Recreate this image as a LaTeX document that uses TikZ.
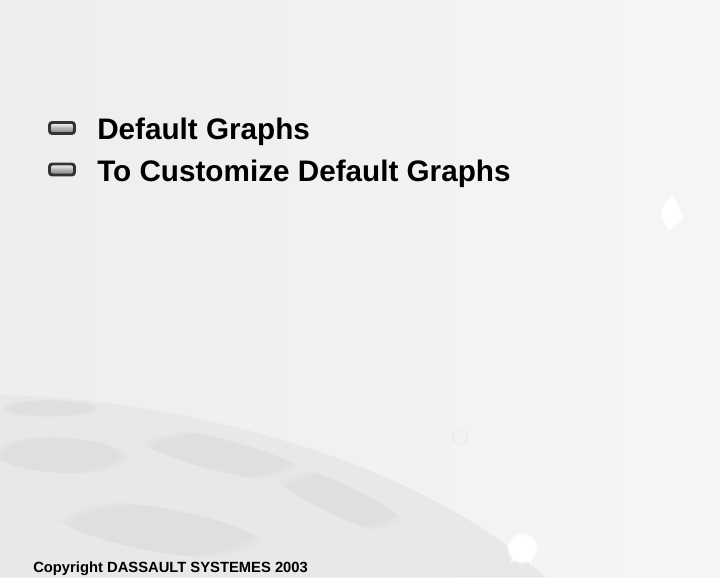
\documentclass[tikz,border=0pt]{standalone}
\usepackage{fontspec}
\setmainfont{Liberation Sans}
\usetikzlibrary{fadings}

% backdrop: darker rim on the left, lighter towards the right
\pgfdeclarehorizontalshading{backdrop}{100bp}{color(0bp)=(black!16); color(2.5bp)=(black!8);
  color(40bp)=(black!6); color(100bp)=(black!2)}

\tikzset{
  bulletbox/.style={draw=black!80, line width=2.1pt, rounded corners=2pt,
    minimum width=0.625cm, minimum height=0.275cm, inner sep=0pt,
    top color=white, bottom color=black!50, middle color=black!30},
  itemtext/.style={anchor=base west, inner sep=0pt, font=\fontsize{21.1}{25}\selectfont\bfseries},
  smalltext/.style={anchor=base west, inner sep=0pt, font=\fontsize{10.5}{12}\selectfont\bfseries},
  patch/.style={black!22, opacity=0.25, path fading=circle with fuzzy edge 20 percent}
}

\begin{document}
\begin{tikzpicture}[x=0.025cm, y=-0.025cm]
    \useasboundingbox (0,0) rectangle (720,577);
    \shade[shading=backdrop] (0,0) rectangle (720,577);
    % earth (y runs downwards, so the tilts are negative)
    \fill[black!9] (0,395) .. controls (180,398) and (420,460) .. (545,577) -- (0,577) -- cycle;
    \fill[patch, rotate around={-4:(60,455)}] (60,455) ellipse (70 and 18);
    \fill[patch, rotate around={-14:(220,455)}] (220,455) ellipse (90 and 16);
    \fill[patch] (50,408) ellipse (50 and 9);
    \fill[patch, rotate around={-25:(340,500)}] (340,500) ellipse (80 and 16);
    \fill[patch, rotate around={-10:(160,530)}] (160,530) ellipse (110 and 22);
    % flare, glints and rings
    \fill[white, path fading=circle with fuzzy edge 20 percent] (522,548) circle (16);
    \fill[white] (522,548) -- (527,536) -- (526,548) -- (540,545) -- (527,552) -- (533,566) -- (522,555) -- (510,563) -- (517,550) -- (505,543) -- cycle;
    \fill[white, path fading=circle with fuzzy edge 20 percent] (672,193) -- (684,218) -- (668,232) -- (660,212) -- cycle;
    \draw[black!7, line width=1.5pt] (460,437) circle (7);
    \draw[black!5, line width=1.5pt] (447,143) circle (6);
    % items
    \node[bulletbox] (bulletA) at (62,128) {};
    \node[itemtext] (itemA) at (97,139) {Default Graphs};
    \node[bulletbox] (bulletB) at (62,169.5) {};
    \node[itemtext] (itemB) at (97,181) {To Customize Default Graphs};
    \node[smalltext] (copyright) at (33,572) {Copyright DASSAULT SYSTEMES 2003};
\end{tikzpicture}
\end{document}
